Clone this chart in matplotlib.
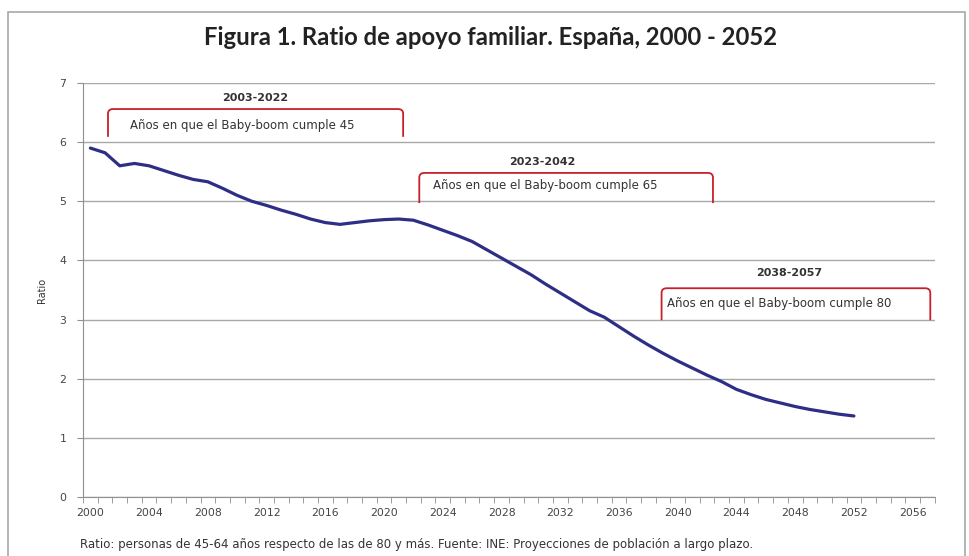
import numpy as np
import matplotlib
matplotlib.use("Agg")
import matplotlib.pyplot as plt
from matplotlib.path import Path
from matplotlib.patches import PathPatch, Rectangle

# ratio de apoyo familiar
years = np.arange(2000, 2053)
ratio = [5.90, 5.82, 5.60, 5.64, 5.60, 5.52, 5.44, 5.37, 5.33, 5.22,
         5.10, 5.00, 4.93, 4.85, 4.78, 4.70, 4.64, 4.61, 4.64, 4.67,
         4.69, 4.70, 4.68, 4.60, 4.51, 4.42, 4.32, 4.18, 4.04, 3.90,
         3.76, 3.60, 3.45, 3.30, 3.15, 3.04, 2.88, 2.72, 2.57, 2.43,
         2.30, 2.18, 2.06, 1.95, 1.82, 1.73, 1.65, 1.59, 1.53, 1.48,
         1.44, 1.40, 1.37]

xticks = list(range(2000, 2057, 4))
yticks = list(range(0, 8))

# bracket annotations
periods = ["2003-2022", "2023-2042", "2038-2057"]
notes = ["Años en que el Baby-boom cumple 45",
         "Años en que el Baby-boom cumple 65",
         "Años en que el Baby-boom cumple 80"]
br_x0 = [2001.2, 2022.4, 2038.9]
br_x1 = [2021.3, 2042.4, 2057.2]
br_top = [6.56, 5.48, 3.53]
br_bot = [6.09, 4.97, 2.99]
period_x = [2011.2, 2030.8, 2047.6]
period_y = [6.75, 5.67, 3.78]
note_x = [2002.7, 2023.3, 2039.3]
note_y = [6.29, 5.26, 3.28]

fig = plt.figure(figsize=(9.7, 5.56), dpi=100)
ax = fig.add_axes([0.0856, 0.1061, 0.878, 0.7446])

# chart frame like the Excel chart area
fig.patches.append(Rectangle((0.008, -0.01), 0.987, 0.988, transform=fig.transFigure,
                             fill=False, edgecolor="#a8a8a8", lw=1.2))

ax.plot(years, ratio, color="#2e2e86", lw=2.3, solid_capstyle="round")

ax.set_xlim(1999.5, 2057.5)
ax.set_ylim(0, 7)
ax.set_xticks(xticks)
ax.set_xticks(np.arange(1999.5, 2058, 1), minor=True)
ax.set_yticks(yticks)
ax.tick_params(axis="x", which="major", length=0, labelsize=7.8, pad=8, colors="#444444")
ax.tick_params(axis="x", which="minor", length=4, color="#909090", direction="out")
ax.tick_params(axis="y", length=4, color="#909090", labelsize=7.8, colors="#444444", pad=8)
ax.yaxis.grid(True, color="#a8a8a8", lw=1)
ax.set_axisbelow(True)
for s in ["top", "right"]:
    ax.spines[s].set_visible(False)
for s in ["left", "bottom"]:
    ax.spines[s].set_color("#909090")
ax.set_ylabel("Ratio", fontsize=7, color="#333333", labelpad=9)

# red brackets with rounded corners
rx, ry = 0.35, 0.08
for i in range(3):
    x0, x1, t, b = br_x0[i], br_x1[i], br_top[i], br_bot[i]
    verts = [(x0, b), (x0, t - ry), (x0, t), (x0 + rx, t),
             (x1 - rx, t), (x1, t), (x1, t - ry), (x1, b)]
    codes = [Path.MOVETO, Path.LINETO, Path.CURVE3, Path.CURVE3,
             Path.LINETO, Path.CURVE3, Path.CURVE3, Path.LINETO]
    ax.add_patch(PathPatch(Path(verts, codes), fill=False, edgecolor="#c8202a", lw=1.3))
    ax.text(period_x[i], period_y[i], periods[i], ha="center", va="center",
            fontsize=8, fontweight="bold", color="#333333")
    ax.text(note_x[i], note_y[i], notes[i], ha="left", va="center",
            fontsize=8.5, color="#333333")

fig.text(0.506, 0.933, "Figura 1. Ratio de apoyo familiar. España, 2000 - 2052",
         ha="center", va="center", fontsize=17.2, family="Lato", fontweight="bold",
         color="#222222")
fig.text(0.0825, 0.02, "Ratio: personas de 45-64 años respecto de las de 80 y más. "
         "Fuente: INE: Proyecciones de población a largo plazo.",
         ha="left", va="center", fontsize=8.5, color="#333333")

fig.savefig("out.png", dpi=100)
